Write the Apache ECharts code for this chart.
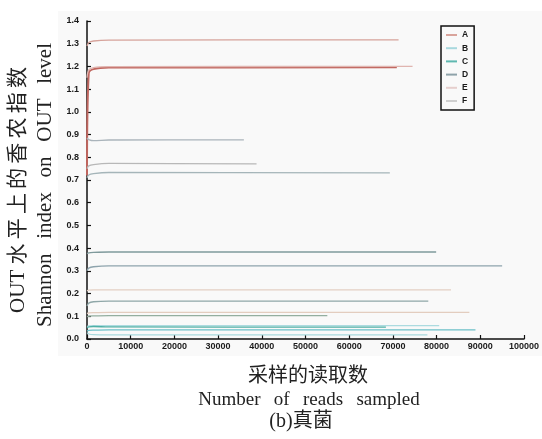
<!DOCTYPE html>
<html>
<head>
<meta charset="utf-8">
<script src="https://cdn.jsdelivr.net/npm/echarts@6/dist/echarts.min.js"></script>
<style>
html,body{margin:0;padding:0;background:#fff;}
#chart{width:542px;height:439px;}
</style>
</head>
<body>
<div id="chart"></div>
<script>
// Legend categories (samples)
const legendNames = ['A', 'B', 'C', 'D', 'E', 'F'];
const legendColors = ['#d9a49c', '#a8d8de', '#5fb8b0', '#8fa3aa', '#e6cfcd', '#cfcfcf'];

// Y ticks
const yTicks = [0.0, 0.1, 0.2, 0.3, 0.4, 0.5, 0.6, 0.7, 0.8, 0.9, 1.0, 1.1, 1.2, 1.3, 1.4];
// X ticks
const xTicks = [0, 10000, 20000, 30000, 40000, 50000, 60000, 70000, 80000, 90000, 100000];

// Rarefaction curves: sampling depths shared by the start of every curve, plus each curve's end depth
const depthGrid = [0, 400, 1500, 5000];
const curveGroup = ['A', 'A', 'A', 'D', 'F', 'D', 'C', 'D', 'E', 'F', 'E', 'C', 'B', 'C', 'B', 'B'];
const curveColor = ['#d6a39b', '#c0665f', '#e0b5b0', '#aab4bb', '#b8b8b8', '#a5b5b9', '#7f9a9c', '#8ea4ad',
                    '#e3d0c4', '#8fa7a8', '#e3cdbf', '#93ae9f', '#acdbe0', '#4fb0a6', '#6cc0c8', '#a8d9dd'];
const curveEnd = [71300, 70900, 74500, 35900, 38800, 69300, 79900, 95000, 83300, 78100, 87500, 55000, 80600, 68400, 88900, 77900];
// values at depthGrid points, then value at curveEnd
const curveVals = [
  [1.29, 1.305, 1.312, 1.316, 1.317],
  [0.72, 1.17, 1.188, 1.195, 1.196],
  [1.15, 1.185, 1.195, 1.199, 1.200],
  [0.885, 0.878, 0.873, 0.876, 0.877],
  [0.75, 0.762, 0.768, 0.773, 0.771],
  [0.71, 0.722, 0.728, 0.733, 0.731],
  [0.375, 0.379, 0.381, 0.383, 0.383],
  [0.30, 0.312, 0.318, 0.322, 0.322],
  [0.212, 0.215, 0.216, 0.216, 0.216],
  [0.145, 0.158, 0.164, 0.167, 0.167],
  [0.112, 0.115, 0.116, 0.117, 0.117],
  [0.098, 0.101, 0.102, 0.103, 0.103],
  [0.055, 0.058, 0.059, 0.059, 0.059],
  [0.048, 0.053, 0.055, 0.053, 0.052],
  [0.035, 0.038, 0.039, 0.040, 0.040],
  [0.028, 0.022, 0.019, 0.018, 0.018]
];

const chart = echarts.init(document.getElementById('chart'), null, {renderer: 'canvas'});

const series = curveVals.map((vals, i) => {
  const pts = depthGrid.map((d, k) => [d, vals[k]]);
  pts.push([curveEnd[i], vals[vals.length - 1]]);
  return {
    type: 'line',
    name: curveGroup[i],
    data: pts,
    showSymbol: false,
    symbol: 'none',
    smooth: 0.3,
    lineStyle: {color: curveColor[i], width: i === 1 ? 2 : 1.3},
    itemStyle: {color: curveColor[i]},
    z: 3
  };
});

const tickFont = {fontFamily: 'Liberation Sans, Arial, sans-serif', fontSize: 9, fontWeight: 'bold', color: '#1a1a1a'};
const G = '\u2002\u2009';
const T = '\u2009';

chart.setOption({
  animation: false,
  backgroundColor: '#ffffff',
  grid: {left: 87, right: 13, top: 21, bottom: 100, containLabel: false},
  graphic: [
    {type: 'rect', z: -1, silent: true, shape: {x: 58, y: 11, width: 484, height: 345}, style: {fill: '#f9f9f9'}},
    {type: 'text', x: 18, y: 190, rotation: Math.PI / 2, style: {text: 'OUT ' + ['水','平','上','的','香','农','指','数'].join(T), font: '21px "Liberation Serif", "Noto Sans CJK SC", serif', fill: '#222', align: 'center', verticalAlign: 'middle'}},
    {type: 'text', x: 45, y: 185, rotation: Math.PI / 2, style: {text: ['Shannon', 'index', 'on', 'OUT', 'level'].join(G), font: '21px "Liberation Serif", serif', fill: '#222', align: 'center', verticalAlign: 'middle'}},
    {type: 'text', x: 308, y: 374, style: {text: '采样的读取数', font: '20px "Noto Sans CJK SC", sans-serif', fill: '#222', align: 'center', verticalAlign: 'middle'}},
    {type: 'text', x: 309, y: 400, style: {text: ['Number', 'of', 'reads', 'sampled'].join(G), font: '19px "Liberation Serif", serif', fill: '#222', align: 'center', verticalAlign: 'middle'}},
    {type: 'text', x: 301, y: 422, style: {text: '(b)真菌', font: '20px "Liberation Serif", "Noto Sans CJK SC", serif', fill: '#222', align: 'center', verticalAlign: 'middle'}}
  ],
  legend: {
    orient: 'vertical',
    left: 441,
    top: 26,
    padding: [4, 6, 4, 5],
    borderColor: '#111',
    borderWidth: 1.5,
    itemWidth: 11,
    itemHeight: 2,
    itemGap: 3.2,
    icon: 'rect',
    textStyle: Object.assign({}, tickFont, {fontSize: 8.5, lineHeight: 10}),
    data: legendNames.map((n, i) => ({name: n, itemStyle: {color: legendColors[i]}}))
  },
  xAxis: {
    type: 'value',
    min: xTicks[0],
    max: xTicks[xTicks.length - 1],
    interval: 10000,
    axisLine: {show: true, onZero: false, lineStyle: {color: '#111', width: 1.5}},
    axisTick: {show: true, inside: true, length: 4, lineStyle: {color: '#111', width: 1.2}},
    axisLabel: Object.assign({}, tickFont, {margin: 3, showMaxLabel: true, formatter: v => String(v)}),
    splitLine: {show: false}
  },
  yAxis: {
    type: 'value',
    min: yTicks[0],
    max: yTicks[yTicks.length - 1],
    interval: 0.1,
    axisLine: {show: true, lineStyle: {color: '#111', width: 1.5}},
    axisTick: {show: true, inside: true, length: 4, lineStyle: {color: '#111', width: 1.2}},
    axisLabel: Object.assign({}, tickFont, {margin: 8, formatter: v => v.toFixed(1)}),
    splitLine: {show: false}
  },
  series: series
});
</script>
</body>
</html>
